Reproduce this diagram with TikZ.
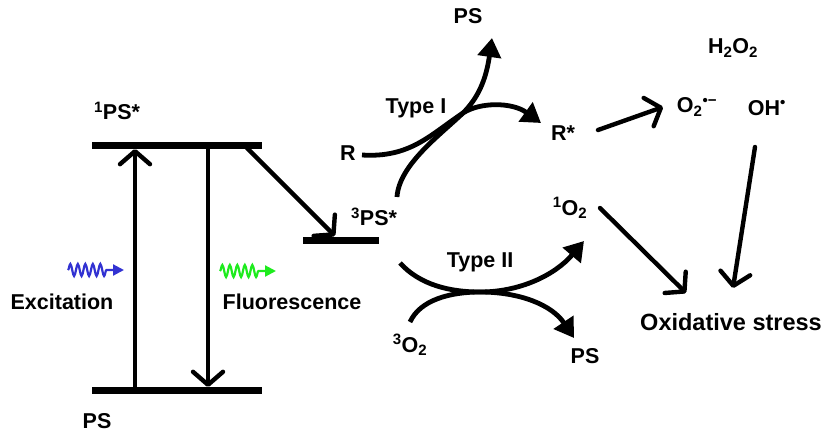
\documentclass[tikz,border=0pt]{standalone}
\usepackage{fontspec}
\setmainfont{Liberation Sans}
\usetikzlibrary{arrows.meta,decorations.pathmorphing}
\begin{document}
\begin{tikzpicture}[x=1pt,y=-1pt,
  lbl/.style={font=\bfseries\fontsize{21.5}{23}\selectfont, inner sep=0pt},
  level/.style={line width=7pt},
  barb/.style={line width=4.4pt, line cap=round, -{Straight Barb[length=13pt,width=30pt,line cap=round,line join=round]}},
  curvy/.style={line width=4.8pt, -{Triangle[length=19pt,width=23pt]}},
  wave/.style={line width=2.2pt, decorate, decoration={snake, amplitude=6pt, segment length=7.5pt, post length=16pt}, -{Triangle[length=11pt,width=11pt]}}]
\useasboundingbox (0,0) rectangle (828,437);
% levels
\coordinate (S1a) at (92,145); \coordinate (S1b) at (262,145);
\coordinate (S0a) at (92,390); \coordinate (S0b) at (262,390);
\coordinate (T1a) at (303,240); \coordinate (T1b) at (379,240);
\draw[level] (S1a) -- (S1b);
\draw[level] (S0a) -- (S0b);
\draw[level] (T1a) -- (T1b);
% vertical arrows
\coordinate (exB) at (135,388); \coordinate (exT) at (135,149);
\coordinate (flT) at (208,148); \coordinate (flB) at (208,387);
\draw[barb] (exB) -- (exT);
\draw[barb] (flT) -- (flB);
\coordinate (iscA) at (247,148); \coordinate (iscB) at (335,236);
\draw[barb] (iscA) -- (iscB);
% labels
\node[lbl] (lS1) at (117,111) {\textsuperscript{1}PS*};
\node[lbl] (lS0) at (97,421) {PS};
\node[lbl] (lT1) at (374,217) {\textsuperscript{3}PS*};
\node[lbl] (lex) at (62,302) {Excitation};
\node[lbl] (lfl) at (292,302) {Fluorescence};
\node[lbl] (lPStop) at (468,16) {PS};
\node[lbl] (ltypeI) at (416,108) {Type I};
\node[lbl] (lR) at (348,153) {R};
\node[lbl] (lRs) at (563,133) {R*};
\node[lbl] (lH2O2) at (733,48) {H\textsubscript{2}O\textsubscript{2}};
\node[lbl] (lO2r) at (697,107) {O\textsubscript{2}\textsuperscript{•−}};
\node[lbl] (lOH) at (767,108) {OH\textsuperscript{•}};
\node[lbl] (l1O2) at (570,208) {\textsuperscript{1}O\textsubscript{2}};
\node[lbl] (ltypeII) at (480,262) {Type II};
\node[lbl] (l3O2) at (410,345) {\textsuperscript{3}O\textsubscript{2}};
\node[lbl] (lPSbr) at (585,356) {PS};
\node[lbl, font=\bfseries\fontsize{23.5}{25}\selectfont] (lox) at (731,322) {Oxidative stress};
% wavy arrows
\coordinate (wbA) at (68,270); \coordinate (wbB) at (124,270);
\coordinate (wgA) at (220,271); \coordinate (wgB) at (276,271);
\draw[wave, color={rgb,255:red,50;green,50;blue,210}] (wbA) -- (wbB);
\draw[wave, color={rgb,255:red,30;green,235;blue,30}] (wgA) -- (wgB);
% Type I curves
\coordinate (c1s) at (397,197); \coordinate (cm) at (463,113); \coordinate (c1e) at (492,38);
\draw[curvy] (c1s) .. controls (399,165) and (440,135) .. (cm) .. controls (478,98) and (486,80) .. (c1e);
\coordinate (c2s) at (362,155); \coordinate (c2e) at (541,123);
\draw[curvy] (c2s) .. controls (410,158) and (430,135) .. (cm) .. controls (480,102) and (512,102) .. (c2e);
% Type II curves
\coordinate (d1s) at (400,263); \coordinate (dm) at (480,292); \coordinate (d1e) at (584,241);
\draw[curvy] (d1s) .. controls (420,285) and (450,292) .. (dm) .. controls (520,292) and (555,275) .. (d1e);
\coordinate (d2s) at (410,322); \coordinate (d2e) at (574,338);
\draw[curvy] (d2s) .. controls (420,300) and (450,292) .. (dm) .. controls (520,292) and (552,305) .. (d2e);
% straight arrows right
\coordinate (rsA) at (598,130); \coordinate (rsB) at (663,107);
\draw[barb] (rsA) -- (rsB);
\coordinate (soA) at (600,208); \coordinate (soB) at (686,293);
\draw[barb] (soA) -- (soB);
\coordinate (ohA) at (755,147); \coordinate (ohB) at (733,288);
\draw[barb] (ohA) -- (ohB);
\end{tikzpicture}
\end{document}
